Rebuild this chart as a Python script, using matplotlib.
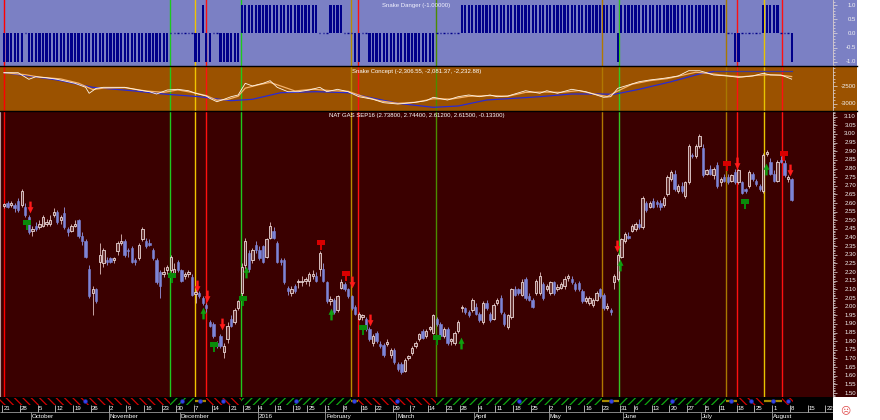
import numpy as np
import pandas as pd
import matplotlib
matplotlib.use("Agg")
import matplotlib.pyplot as plt
from matplotlib.path import Path
from matplotlib.patches import Rectangle
from matplotlib.lines import Line2D
from matplotlib.ticker import FixedLocator
from matplotlib.transforms import blended_transform_factory

plt.rcParams['font.family'] = ['Liberation Sans', 'DejaVu Sans']
plt.rcParams['hatch.linewidth'] = 0.9

# ---------------- data ----------------
first_day = "2015-09-21"
axis_last_day = "2016-08-26"
holidays = ["2015-11-26", "2015-12-25", "2016-01-01", "2016-01-18",
            "2016-02-15", "2016-03-25", "2016-05-30", "2016-07-04"]

opens = [2.585, 2.60, 2.59, 2.59, 2.61, 2.59, 2.58, 2.52, 2.44, 2.47,
         2.46, 2.47, 2.48, 2.48, 2.53, 2.55, 2.50, 2.54, 2.45, 2.44,
         2.47, 2.50, 2.41, 2.38, 2.22, 2.08, 2.10, 2.26, 2.25, 2.27,
         2.28, 2.27, 2.32, 2.37, 2.38, 2.33, 2.34, 2.27, 2.28, 2.39,
         2.38, 2.37, 2.33, 2.27, 2.20, 2.19, 2.21, 2.21, 2.19, 2.26,
         2.21, 2.18, 2.19, 2.17, 2.075, 2.08, 2.05, 2.01, 1.91, 1.90,
         1.79, 1.83, 1.74, 1.81, 1.93, 1.91, 1.99, 2.08, 2.24, 2.31,
         2.27, 2.36, 2.33, 2.35, 2.29, 2.40, 2.44, 2.37, 2.27, 2.27,
         2.11, 2.08, 2.12, 2.14, 2.14, 2.15, 2.15, 2.18, 2.18, 2.22,
         2.22, 2.14, 2.035, 2.04, 1.98, 2.11, 2.13, 2.10, 2.06, 2.00,
         1.93, 1.94, 1.93, 1.87, 1.79, 1.85, 1.785, 1.78, 1.785, 1.72,
         1.75, 1.67, 1.67, 1.63, 1.705, 1.73, 1.77, 1.81, 1.86, 1.83,
         1.87, 1.85, 1.93, 1.90, 1.83, 1.87, 1.80, 1.79, 1.86, 1.99,
         1.99, 1.97, 1.98, 2.00, 1.96, 1.91, 2.02, 1.96, 1.93, 2.02,
         2.05, 1.96, 1.88, 1.94, 2.10, 2.10, 2.07, 2.16, 2.06, 2.04,
         2.08, 2.08, 2.13, 2.10, 2.08, 2.14, 2.105, 2.11, 2.12, 2.165,
         2.16, 2.13, 2.135, 2.09, 2.03, 2.02, 2.01, 2.04, 2.10, 2.07,
         1.995, 1.98, 2.14, 2.16, 2.29, 2.38, 2.41, 2.44, 2.45, 2.48,
         2.46, 2.60, 2.58, 2.61, 2.605, 2.60, 2.59, 2.65, 2.74, 2.77,
         2.67, 2.70, 2.64, 2.72, 2.88, 2.87, 2.93, 2.92, 2.77, 2.80,
         2.76, 2.82, 2.72, 2.75, 2.75, 2.73, 2.78, 2.72, 2.72, 2.68,
         2.70, 2.77, 2.73, 2.70, 2.67, 2.885, 2.84, 2.77, 2.73, 2.85,
         2.83, 2.74, 2.738]

highs = [2.60, 2.61, 2.61, 2.60, 2.63, 2.68, 2.60, 2.53, 2.47, 2.49,
         2.50, 2.53, 2.51, 2.53, 2.57, 2.56, 2.53, 2.58, 2.46, 2.48,
         2.50, 2.51, 2.43, 2.39, 2.24, 2.12, 2.11, 2.37, 2.34, 2.29,
         2.29, 2.29, 2.38, 2.42, 2.39, 2.34, 2.35, 2.28, 2.37, 2.46,
         2.40, 2.39, 2.34, 2.28, 2.21, 2.23, 2.24, 2.30, 2.25, 2.27,
         2.22, 2.20, 2.21, 2.19, 2.10, 2.09, 2.06, 2.02, 1.92, 1.91,
         1.80, 1.84, 1.79, 1.91, 1.95, 1.99, 2.04, 2.25, 2.40, 2.33,
         2.34, 2.38, 2.35, 2.36, 2.40, 2.49, 2.46, 2.38, 2.28, 2.28,
         2.12, 2.12, 2.13, 2.16, 2.18, 2.17, 2.20, 2.21, 2.20, 2.32,
         2.25, 2.15, 2.06, 2.05, 2.07, 2.16, 2.14, 2.11, 2.07, 2.01,
         1.97, 1.96, 1.94, 1.88, 1.84, 1.86, 1.80, 1.79, 1.81, 1.76,
         1.76, 1.68, 1.68, 1.70, 1.72, 1.77, 1.80, 1.85, 1.87, 1.87,
         1.89, 1.96, 1.94, 1.91, 1.88, 1.88, 1.82, 1.86, 1.92, 2.01,
         2.00, 1.98, 2.05, 2.02, 1.97, 2.03, 2.04, 1.97, 2.02, 2.05,
         2.07, 1.97, 1.96, 2.11, 2.12, 2.11, 2.16, 2.17, 2.08, 2.05,
         2.16, 2.20, 2.14, 2.13, 2.15, 2.15, 2.13, 2.14, 2.18, 2.19,
         2.18, 2.14, 2.15, 2.10, 2.06, 2.06, 2.05, 2.09, 2.11, 2.08,
         2.02, 1.99, 2.19, 2.31, 2.40, 2.43, 2.43, 2.48, 2.49, 2.51,
         2.64, 2.61, 2.61, 2.63, 2.62, 2.62, 2.64, 2.76, 2.79, 2.79,
         2.71, 2.72, 2.73, 2.94, 2.89, 2.94, 3.00, 2.94, 2.80, 2.82,
         2.81, 2.84, 2.75, 2.77, 2.77, 2.77, 2.80, 2.80, 2.73, 2.69,
         2.79, 2.78, 2.74, 2.71, 2.89, 2.91, 2.86, 2.79, 2.85, 2.87,
         2.85, 2.76, 2.744]

lows = [2.57, 2.57, 2.58, 2.55, 2.55, 2.58, 2.52, 2.42, 2.41, 2.44,
        2.45, 2.46, 2.47, 2.47, 2.52, 2.48, 2.48, 2.45, 2.41, 2.43,
        2.46, 2.40, 2.36, 2.28, 2.05, 1.95, 2.02, 2.19, 2.23, 2.24,
        2.25, 2.25, 2.30, 2.36, 2.29, 2.29, 2.25, 2.24, 2.27, 2.38,
        2.34, 2.35, 2.27, 2.13, 2.05, 2.17, 2.19, 2.20, 2.17, 2.20,
        2.14, 2.16, 2.17, 2.06, 2.02, 2.05, 2.01, 1.97, 1.88, 1.82,
        1.76, 1.76, 1.70, 1.79, 1.88, 1.90, 1.98, 2.05, 2.22, 2.20,
        2.25, 2.31, 2.27, 2.25, 2.28, 2.39, 2.39, 2.25, 2.24, 2.13,
        2.07, 2.06, 2.08, 2.11, 2.12, 2.13, 2.12, 2.16, 2.14, 2.18,
        2.14, 2.02, 2.01, 1.96, 1.97, 2.10, 2.09, 2.05, 1.98, 1.95,
        1.92, 1.92, 1.86, 1.80, 1.77, 1.79, 1.76, 1.71, 1.77, 1.70,
        1.67, 1.63, 1.61, 1.62, 1.69, 1.72, 1.76, 1.80, 1.81, 1.82,
        1.86, 1.84, 1.89, 1.82, 1.82, 1.78, 1.78, 1.78, 1.85, 1.97,
        1.96, 1.94, 1.97, 1.95, 1.91, 1.90, 1.98, 1.91, 1.92, 2.01,
        1.96, 1.89, 1.87, 1.93, 2.06, 2.07, 2.06, 2.04, 2.03, 1.99,
        2.07, 2.07, 2.04, 2.09, 2.07, 2.07, 2.09, 2.10, 2.10, 2.15,
        2.13, 2.09, 2.09, 2.02, 2.02, 2.01, 2.00, 2.03, 2.05, 1.98,
        1.98, 1.95, 2.10, 2.15, 2.28, 2.37, 2.39, 2.43, 2.44, 2.45,
        2.45, 2.55, 2.57, 2.57, 2.58, 2.56, 2.58, 2.64, 2.73, 2.67,
        2.66, 2.66, 2.63, 2.71, 2.86, 2.86, 2.92, 2.75, 2.76, 2.76,
        2.74, 2.69, 2.70, 2.72, 2.71, 2.72, 2.71, 2.71, 2.65, 2.66,
        2.69, 2.73, 2.70, 2.67, 2.66, 2.87, 2.76, 2.72, 2.72, 2.83,
        2.75, 2.72, 2.612]

closes = [2.595, 2.58, 2.60, 2.57, 2.56, 2.67, 2.53, 2.43, 2.45, 2.45,
          2.48, 2.52, 2.49, 2.50, 2.55, 2.49, 2.52, 2.46, 2.43, 2.47,
          2.48, 2.41, 2.38, 2.29, 2.06, 2.10, 2.03, 2.30, 2.33, 2.26,
          2.26, 2.28, 2.37, 2.38, 2.30, 2.32, 2.26, 2.26, 2.36, 2.45,
          2.35, 2.36, 2.28, 2.14, 2.12, 2.20, 2.23, 2.29, 2.22, 2.21,
          2.15, 2.19, 2.20, 2.07, 2.085, 2.06, 2.02, 1.99, 1.89, 1.83,
          1.77, 1.77, 1.77, 1.89, 1.89, 1.98, 2.03, 2.23, 2.38, 2.22,
          2.33, 2.33, 2.28, 2.26, 2.39, 2.47, 2.40, 2.26, 2.26, 2.14,
          2.09, 2.10, 2.09, 2.15, 2.15, 2.16, 2.19, 2.19, 2.15, 2.31,
          2.15, 2.03, 2.045, 1.97, 2.06, 2.14, 2.10, 2.06, 1.99, 1.96,
          1.96, 1.95, 1.87, 1.81, 1.83, 1.80, 1.775, 1.72, 1.795, 1.75,
          1.68, 1.64, 1.62, 1.69, 1.715, 1.76, 1.79, 1.84, 1.82, 1.86,
          1.88, 1.95, 1.90, 1.83, 1.87, 1.79, 1.81, 1.85, 1.91, 2.00,
          1.97, 1.95, 2.04, 1.96, 1.92, 2.02, 1.99, 1.92, 2.01, 2.04,
          1.97, 1.90, 1.95, 2.10, 2.07, 2.08, 2.14, 2.05, 2.04, 2.00,
          2.15, 2.18, 2.05, 2.12, 2.14, 2.08, 2.115, 2.13, 2.16, 2.175,
          2.14, 2.10, 2.10, 2.03, 2.05, 2.05, 2.04, 2.08, 2.06, 1.99,
          2.005, 1.97, 2.18, 2.30, 2.39, 2.42, 2.40, 2.47, 2.48, 2.46,
          2.63, 2.56, 2.60, 2.58, 2.595, 2.58, 2.63, 2.75, 2.78, 2.68,
          2.70, 2.67, 2.72, 2.93, 2.87, 2.93, 2.99, 2.76, 2.79, 2.77,
          2.80, 2.70, 2.74, 2.73, 2.72, 2.76, 2.72, 2.79, 2.66, 2.67,
          2.78, 2.74, 2.71, 2.68, 2.88, 2.895, 2.77, 2.73, 2.84, 2.84,
          2.76, 2.748, 2.615]

# Snake Danger: run-length encoded per-bar states (-1, 0, +1)
danger_values = [-1, 0, -1, 0, -1, 1, -1, 0, -1, 1, 0, 1, 0, -1, 0, -1, 0, 1, -1, 1, 0, -1, 0, 1, 0, -1]
danger_counts = [6, 1, 40, 7, 2, 1, 2, 2, 6, 22, 3, 4, 3, 2, 2, 19, 7, 44, 1, 30, 2, 2, 6, 5, 3, 1]

# Snake Concept lines (bar index, value)
concept_white_x = [0, 4, 5, 7, 9, 12, 15, 20, 23, 24, 26, 28, 31, 34, 38, 41, 43, 46, 49, 52, 54, 57, 58, 60,
                   62, 64, 66, 68, 70, 73, 75, 77, 80, 83, 86, 89, 91, 94, 97, 100, 104, 107, 111, 115, 119,
                   121, 125, 128, 131, 134, 137, 139, 142, 147, 151, 153, 156, 160, 164, 167, 169, 171, 173,
                   176, 179, 182, 186, 190, 193, 196, 198, 200, 204, 207, 211, 214, 216, 219, 222]
concept_white_y = [-2124, -2124, -2189, -2311, -2237, -2266, -2311, -2424, -2537, -2706, -2565, -2537, -2537,
                   -2537, -2613, -2661, -2726, -2613, -2593, -2633, -2706, -2783, -2847, -2944, -2876, -2802,
                   -2754, -2424, -2500, -2424, -2350, -2537, -2661, -2661, -2613, -2537, -2661, -2593, -2661,
                   -2802, -2876, -2972, -3009, -2972, -2915, -2819, -2896, -2802, -2754, -2802, -2754, -2802,
                   -2783, -2633, -2706, -2633, -2706, -2593, -2661, -2754, -2819, -2802, -2565, -2472, -2379,
                   -2330, -2282, -2218, -2068, -2068, -2124, -2189, -2218, -2254, -2218, -2141, -2189, -2189,
                   -2306]
concept_orange_x = [0, 6, 10, 16, 21, 25, 28, 34, 40, 45, 49, 53, 57, 60, 63, 66, 68, 72, 75, 78, 82, 87, 92,
                    97, 101, 106, 111, 116, 121, 126, 131, 137, 142, 147, 152, 157, 162, 167, 170, 173, 177,
                    182, 187, 191, 195, 199, 204, 208, 212, 216, 220, 222]
concept_orange_y = [-2124, -2180, -2250, -2300, -2420, -2600, -2560, -2545, -2640, -2680, -2610, -2680, -2770,
                    -2900, -2880, -2790, -2560, -2460, -2400, -2500, -2640, -2590, -2630, -2650, -2790, -2920,
                    -2990, -2960, -2860, -2870, -2790, -2770, -2790, -2680, -2670, -2680, -2630, -2740, -2800,
                    -2640, -2450, -2350, -2290, -2200, -2110, -2150, -2210, -2240, -2200, -2180, -2210, -2233]
concept_blue_x = [0, 7, 15, 25, 36, 45, 55, 64, 70, 78, 88, 97, 102, 111, 121, 128, 136, 151, 160, 168, 172,
                  179, 188, 196, 200]
concept_blue_y = [-2124, -2218, -2330, -2537, -2633, -2726, -2802, -2915, -2876, -2689, -2661, -2689, -2802,
                  -2989, -3102, -3065, -2896, -2802, -2726, -2726, -2734, -2593, -2379, -2161, -2090]
concept_level_x = [200, 222]
concept_level_y = [-2081.37, -2081.37]

# system signals (bar position, kind)
signal_x = [0.1, 46.8, 53.8, 56.8, 66.8, 97.7, 99.8, 121.8, 168.5, 173.4, 203.4, 206.5, 214.3, 219.4]
signal_kind = ["sell", "buy", "flat", "sell", "buy", "flat", "sell", "buy", "flat", "buy", "flat", "sell",
               "flat", "sell"]

red_arrow_x = [7.3, 54.3, 57.1, 61.4, 98.0, 103.2, 172.9, 206.5, 221.5]
red_arrow_y = [2.58, 2.12, 2.06, 1.90, 2.14, 1.92, 2.35, 2.83, 2.79]
green_arrow_x = [56.2, 68.1, 92.1, 128.9, 173.6, 214.7]
green_arrow_y = [1.965, 2.20, 1.957, 1.79, 2.24, 2.80]
red_flag_x = [89.3, 96.3, 203.9, 219.8]
red_flag_y = [2.36, 2.18, 2.815, 2.875]
green_flag_x = [6.4, 47.3, 59.3, 67.3, 101.3, 122.0, 208.8]
green_flag_y = [2.475, 2.165, 1.765, 2.035, 1.865, 1.805, 2.595]

title_danger = "Snake Danger (-1.00000)"
title_concept = "Snake Concept (-2,306.55, -2,081.37, -2,232.88)"
title_main = "NAT GAS SEP16 (2.73800, 2.74400, 2.61200, 2.61500, -0.13300)"

danger_ticks = [1.0, 0.5, 0.0, -0.5, -1.0]
danger_tick_labels = ["1.0", "0.5", "0.0", "-0.5", "-1.0"]
concept_ticks = [-2500, -3000]
concept_tick_labels = ["-2500", "-3000"]
price_ticks = [round(1.50 + 0.05 * k, 2) for k in range(33)]
price_tick_labels = ["%.2f" % v for v in price_ticks]

# ---------------- layout ----------------
W, H = 880, 420
PLOT_R, LABEL_R = 833, 857
BG_TOP, BG_MID, BG_MAIN = "#7b80c4", "#9b5200", "#3a0000"
XL = (-1.127, 233.65)

fig = plt.figure(figsize=(8.8, 4.2), dpi=100)
fig.patch.set_facecolor("white")


def add_axes(y0, y1):
    return fig.add_axes([0, 1 - y1 / H, PLOT_R / W, (y1 - y0) / H])


ax_top = add_axes(0, 66)
ax_mid = add_axes(66, 111)
ax_main = add_axes(111, 397)
ax_bot = add_axes(397, 420)

for (y0, y1, col) in [(0, 66, BG_TOP), (66, 111, BG_MID), (111, 397, BG_MAIN)]:
    fig.add_artist(Rectangle((PLOT_R / W, 1 - y1 / H), (LABEL_R - PLOT_R) / W, (y1 - y0) / H,
                             transform=fig.transFigure, facecolor=col, edgecolor="none", zorder=-1))


def style(ax, bg, ylim, major, minor_step, labels, lab_color="#f4f4f4"):
    ax.set_facecolor(bg)
    ax.set_xlim(*XL)
    ax.set_ylim(*ylim)
    for s in ["left", "top", "bottom"]:
        ax.spines[s].set_visible(False)
    ax.spines["right"].set_color("#d8cccc")
    ax.spines["right"].set_linewidth(0.6)
    ax.set_xticks([])
    ax.yaxis.set_major_locator(FixedLocator(major))
    lo, hi = min(ylim), max(ylim)
    start = np.ceil(lo / minor_step) * minor_step
    ax.yaxis.set_minor_locator(FixedLocator(np.arange(start, hi, minor_step)))
    ax.tick_params(axis="y", which="both", left=False, right=True, labelleft=False, labelright=False,
                   direction="out", colors="#e6dede", width=0.5)
    ax.tick_params(axis="y", which="major", length=3)
    ax.tick_params(axis="y", which="minor", length=1.6)
    tr = blended_transform_factory(ax.transAxes, ax.transData)
    for v, s in zip(major, labels):
        ax.text(1 + 23 / PLOT_R, v, s, transform=tr, ha="right", va="center", fontsize=4.3,
                color=lab_color, clip_on=False)


style(ax_top, BG_TOP, (-1.152, 1.177), danger_ticks, 0.1, danger_tick_labels)
style(ax_mid, BG_MID, (-3206, -1935), concept_ticks, 100, concept_tick_labels)
style(ax_main, BG_MAIN, (1.477, 3.133), price_ticks, 0.01, price_tick_labels)

# signal lines
line_colors = ["#ff0000", "#1ec81e", "#f0c400", "#ff1010", "#1ec81e", "#b88c00", "#ff1010", "#4a8c00",
               "#b07800", "#34c424", "#a87800", "#ff1010", "#e8c400", "#ff1010"]
for ax in (ax_top, ax_mid, ax_main):
    for xv, col in zip(signal_x, line_colors):
        ax.axvline(xv, color=col, lw=1.0, zorder=1)

# ---- Snake Danger ----
dvals = np.repeat(danger_values, danger_counts)
didx = np.arange(len(dvals))
nz = dvals != 0
ax_top.bar(didx[nz], dvals[nz], width=0.62, color="#00008a", zorder=3)
ax_top.hlines(np.zeros((~nz).sum()), didx[~nz] - 0.2, didx[~nz] + 0.2, color="#00008a", lw=1.0, zorder=3)
ax_top.text(0.5, 1 - 5 / 66, title_danger, transform=ax_top.transAxes, ha="center", va="center",
            fontsize=4.3, color="#f4f4ff")

# ---- Snake Concept ----
ax_mid.plot(concept_blue_x, concept_blue_y, color="#2a2ad4", lw=0.9, zorder=3)
ax_mid.plot(concept_level_x, concept_level_y, color="#3a3a9a", lw=0.9, zorder=3)
ax_mid.plot(concept_orange_x, concept_orange_y, color="#f5b26b", lw=0.9, zorder=4)
ax_mid.plot(concept_white_x, concept_white_y, color="#fff6ea", lw=0.6, zorder=5)
ax_mid.text(0.5, 1 - 5 / 45, title_concept, transform=ax_mid.transAxes, ha="center", va="center",
            fontsize=4.3, color="#ffffff")

# ---- Candles ----
o = np.array(opens); h = np.array(highs); l = np.array(lows); c = np.array(closes)
xi = np.arange(len(c))
up = c >= o
bb = np.minimum(o, c)
bh = np.maximum(np.abs(c - o), 0.004)
ax_main.vlines(xi[up], l[up], h[up], color="#c8a4a4", lw=0.7, zorder=3)
ax_main.vlines(xi[~up], l[~up], h[~up], color="#8a84c4", lw=0.7, zorder=3)
ax_main.bar(xi[up], bh[up], bottom=bb[up], width=0.66, facecolor="#6a3434", edgecolor="#ecdada",
            linewidth=0.6, zorder=4)
ax_main.bar(xi[~up], bh[~up], bottom=bb[~up], width=0.66, facecolor="#7d84d6", edgecolor="#7d84d6",
            linewidth=0.4, zorder=4)

# markers
down_arrow = Path([(-0.2, 1), (0.2, 1), (0.2, 0.05), (0.5, 0.05), (0, -1), (-0.5, 0.05), (-0.2, 0.05),
                   (-0.2, 1)], [1, 2, 2, 2, 2, 2, 2, 79])
up_arrow = Path([(-0.2, -1), (0.2, -1), (0.2, -0.05), (0.5, -0.05), (0, 1), (-0.5, -0.05), (-0.2, -0.05),
                 (-0.2, -1)], [1, 2, 2, 2, 2, 2, 2, 79])
flag = Path([(-0.95, 0.1), (0.95, 0.1), (0.95, 1), (-0.95, 1), (-0.95, 0.1),
             (-0.16, -1), (0.16, -1), (0.16, 0.1), (-0.16, 0.1), (-0.16, -1)],
            [1, 2, 2, 2, 79, 1, 2, 2, 2, 79])
ax_main.plot(red_arrow_x, red_arrow_y, ls="none", marker=down_arrow, ms=8.5, color="#ff1a1a", mew=0, zorder=6)
ax_main.plot(green_arrow_x, green_arrow_y, ls="none", marker=up_arrow, ms=8.5, color="#10a010", mew=0, zorder=6)
ax_main.plot(red_flag_x, red_flag_y, ls="none", marker=flag, ms=6.8, color="#d80000", mew=0, zorder=6)
ax_main.plot(green_flag_x, green_flag_y, ls="none", marker=flag, ms=6.8, color="#0a8a0a", mew=0, zorder=6)
ax_main.text(0.5, 1 - 5 / 286, title_main, transform=ax_main.transAxes, ha="center", va="center",
             fontsize=4.3, color="#ffffff")
ax_main.spines["left"].set_visible(True)
ax_main.spines["left"].set_color("#b89a9a")
ax_main.spines["left"].set_linewidth(0.8)

# separators
for yy in (66, 111):
    fig.add_artist(Line2D([0, LABEL_R / W], [1 - yy / H] * 2, color="#000000", lw=1.0, zorder=5))

# ---- bottom strip + date axis ----
ax_bot.set_facecolor("black")
ax_bot.set_xlim(*XL)
ax_bot.set_ylim(23, 0)
ax_bot.axis("off")
ax_bot.add_patch(Rectangle((XL[0], 0), XL[1] - XL[0], 23, facecolor="black", edgecolor="none", zorder=0))

n_bars = len(c)
bounds = [XL[0]] + signal_x[1:] + [n_bars - 0.5]
for k, kind in enumerate(signal_kind):
    x0, x1 = bounds[k], bounds[k + 1]
    mid = 0.5 * (x0 + x1)
    if kind == "sell":
        ax_bot.add_patch(Rectangle((x0, 0.6), x1 - x0, 7.2, facecolor="black", edgecolor="#d40000",
                                   hatch="\\\\\\\\", linewidth=0, zorder=2))
    elif kind == "buy":
        ax_bot.add_patch(Rectangle((x0, 0.6), x1 - x0, 7.2, facecolor="black", edgecolor="#10a810",
                                   hatch="////", linewidth=0, zorder=2))
    else:
        ax_bot.hlines(4.2, x0, x1, color="#a88800", lw=1.6, zorder=2)
    ax_bot.plot([mid], [4.2], marker="o", ms=2.8, color="#3444e8", mec="#1a26a8", mew=0.4, zorder=3)

days = pd.bdate_range(first_day, axis_last_day)
days = days[~days.isin(pd.to_datetime(holidays))]
ax_bot.hlines(15.3, XL[0], XL[1], color="#9a9a9a", lw=0.6, zorder=2)
prev = None
for i, d in enumerate(days):
    new_week = prev is None or d.weekday() < prev.weekday()
    new_month = prev is None or d.month != prev.month
    pos = i - 0.5
    if pos > XL[1]:
        break
    if new_week:
        ax_bot.vlines(pos, 8.2, 15.3, color="#c8c8c8", lw=0.6, zorder=2)
        ax_bot.text(pos + 0.3, 11.8, str(d.day), fontsize=4.4, color="white", ha="left", va="center",
                    clip_on=False)
    if new_month and i > 0:
        ax_bot.vlines(pos, 15.3, 23, color="#9a9a9a", lw=0.6, zorder=2)
        name = str(d.year) if d.month == 1 else d.strftime("%B")
        ax_bot.text(pos + 0.3, 19.6, name, fontsize=4.5, color="white", ha="left", va="center",
                    clip_on=False)
    prev = d

fig.text(845 / W, 1 - 410 / H, "\u2639", color="#e04848", fontsize=7, ha="center", va="center",
         family=["DejaVu Sans"])

fig.savefig("out.png", dpi=100, facecolor="white")
